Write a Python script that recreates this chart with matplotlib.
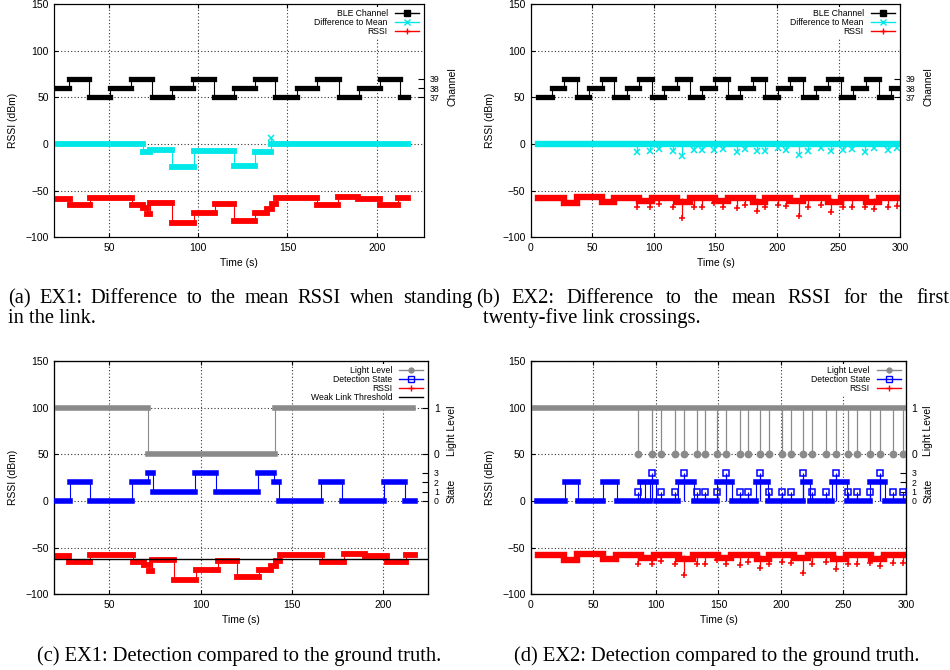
import numpy as np
import matplotlib.pyplot as plt
from matplotlib.lines import Line2D

plt.rcParams['font.family'] = ['Liberation Sans', 'DejaVu Sans']

W, H = 950, 670

# === EX1: standing in the link (panels a, c) ===
ex1_ch_t = [19.7, 27.4, 39.0, 50.7, 62.3, 74.1, 85.5, 97.3, 108.7, 120.2, 131.8,
            143.2, 155.2, 166.8, 178.7, 189.9, 201.7, 213.1, 217.4]
ex1_ch = [38, 39, 37, 38, 39, 37, 38, 39, 37, 38, 39, 37, 38, 39, 37, 38, 39, 37]

ex1_rssi_t = [20.0, 28.1, 39.3, 62.7, 69.2, 71.5, 73.2, 85.5, 97.6, 109.4, 120.0,
              131.8, 138.6, 141.2, 143.5, 166.4, 178.5, 189.7, 201.9, 212.2, 217.4]
ex1_rssi = [-59, -65, -58, -65, -69, -75, -63, -85, -74, -64, -82,
            -74, -70, -64, -58, -65, -57, -59, -65, -58]

ex1_diff_t = [20.0, 69.2, 73.2, 85.5, 97.6, 120.0, 131.8, 140.5, 217.4]
ex1_diff = [0, -8, -6, -25, -7, -23, -8, 0]
ex1_diff_spike_t = [141.0]
ex1_diff_spike = [7]

ex1_light_t = [20.0, 71.4, 140.7, 216.4]
ex1_light = [1, 0, 1]

ex1_state_t = [20.0, 28.5, 39.4, 62.6, 71.0, 74.0, 96.7, 108.4, 131.2, 140.0,
               143.1, 166.1, 177.2, 200.5, 211.9, 217.4]
ex1_state = [0, 2, 0, 2, 3, 1, 3, 1, 3, 2, 0, 2, 0, 2, 0]
ex1_threshold = -62.5

# === EX2: 25 link crossings (panels b, d) ===
ex2_ch_t = [6.0, 16.8, 26.8, 37.1, 47.4, 57.5, 67.8, 77.8, 88.1, 98.6, 108.4,
            118.7, 129.3, 139.3, 149.6, 159.9, 169.9, 180.5, 190.5, 200.5, 210.8,
            221.4, 231.4, 241.7, 251.8, 262.1, 272.4, 282.7, 292.7, 300.0]
ex2_ch = [37, 38, 39, 37, 38, 39, 37, 38, 39, 37, 38, 39, 37, 38, 39,
          37, 38, 39, 37, 38, 39, 37, 38, 39, 37, 38, 39, 37, 38]

ex2_rssi_t = [6.0, 26.8, 37.1, 57.5, 67.8, 88.1, 98.6, 118.7, 129.3, 149.6,
              159.9, 180.5, 190.5, 210.8, 221.4, 241.7, 251.8, 272.4, 282.7, 300.0]
ex2_rssi = [-57.5, -63, -57, -62.5, -58, -61, -58, -62, -58, -61,
            -58, -62, -58, -61, -58, -62, -58, -62, -58]

ex2_cross_t = [85.9, 96.5, 103.7, 115.2, 122.4, 132.5, 139.2, 149.1, 155.7, 167.2,
               173.9, 183.5, 190.1, 201.1, 207.7, 217.9, 225.1, 235.7, 244.0, 253.9,
               261.1, 271.2, 279.2, 289.9, 297.3]
ex2_rssi_spike = [-68, -68, -64, -68, -79, -68, -68, -63, -68, -69,
                  -65, -72, -68, -65, -66, -77, -68, -65, -73, -68,
                  -68, -67, -70, -67, -66]
ex2_diff_spike = [-8, -7, -5, -7, -13, -6, -6, -6, -5, -8,
                  -5, -7, -7, -4, -6, -12, -7, -4, -7, -6,
                  -5, -8, -4, -6, -4]
ex2_diff_t = [6.0, 300.0]
ex2_diff = [0]

ex2_light_t = [0.0, 300.0]
ex2_light = [1]
ex2_light_dip = [0] * len(ex2_cross_t)

ex2_state_t = [5.0, 27.0, 38.0, 58.0, 68.5, 87.5, 91.5, 95.0, 100.0, 118.0, 130.5,
               148.5, 160.5, 180.0, 190.0, 218.0, 223.5, 240.5, 253.0, 271.0, 283.5, 300.0]
ex2_state = [0, 2, 0, 2, 0, 2, 0, 2, 0, 2, 0, 2, 0, 2, 0, 2, 0, 2, 0, 2, 0]
ex2_state_spike = [1, 3, 1, 1, 3, 1, 1, 1, 3, 1, 1, 3, 1, 1, 1, 3, 1, 1, 3, 1, 1, 1, 3, 1, 1]

CYAN = '#00e8e8'
RED = '#ff0000'
BLUE = '#0000ff'
GRAY = '#8a8a8a'

fig = plt.figure(figsize=(W / 100, H / 100), dpi=100)


def steps(ax, t, v, color, lw):
    # thin connecting line + thick band where the dense markers overlap
    t = np.asarray(t, float)
    v = np.asarray(v, float)
    ax.plot(np.repeat(t, 2)[1:-1], np.repeat(v, 2), color=color, lw=0.8, zorder=2)
    ax.hlines(v, t[:-1], t[1:], colors=color, lw=lw, capstyle='projecting', zorder=3)


def spikes(ax, t, v, base, color, marker, ms, mfc=None):
    ax.vlines(t, base, v, colors=color, lw=0.9, zorder=2)
    ax.plot(t, v, ls='none', marker=marker, ms=ms, color=color,
            mfc=color if mfc is None else mfc, mew=1.1, zorder=4)


def panel(rect, xlim, xticks):
    ax = fig.add_axes(rect)
    ax.set_xlim(*xlim)
    ax.set_ylim(-100, 150)
    ax.set_xticks(xticks)
    ax.set_yticks([-100, -50, 0, 50, 100, 150])
    ax.grid(True, color='0.2', ls=(0, (1, 2)), lw=0.8)
    ax.tick_params(direction='in', top=True, length=3, labelsize=7.5, pad=4)
    ax.set_xlabel('Time (s)', fontsize=7.5, labelpad=4)
    ax.set_ylabel('RSSI (dBm)', fontsize=7.5, labelpad=5)
    return ax


def right_axis(ax, lo, hi, ticks):
    a = ax.twinx()
    a.set_ylim(lo, hi)
    a.set_yticks(ticks)
    a.tick_params(axis='y', direction='in', length=4, labelsize=6.3, pad=4)
    return a


def side_label(ax, x, y, s):
    ax.text(x, y, s, transform=ax.get_yaxis_transform(), rotation=90,
            ha='center', va='center', fontsize=7.5)


def key(ax, handles):
    leg = ax.legend(handles=handles, loc='upper right', fontsize=6.2, markerfirst=False,
                    handlelength=2.8, handletextpad=0.8, labelspacing=0.0,
                    borderpad=0.3, borderaxespad=0.3, frameon=True, fancybox=False)
    leg.get_frame().set_edgecolor('none')
    leg.get_frame().set_facecolor('white')
    leg.get_frame().set_alpha(1)


def ex_handles(light=False, threshold=False):
    if not light:
        return [Line2D([], [], color='k', lw=1, marker='s', ms=4, label='BLE Channel'),
                Line2D([], [], color=CYAN, lw=1, marker='x', ms=4, label='Difference to Mean'),
                Line2D([], [], color=RED, lw=1, marker='+', ms=5, label='RSSI')]
    hs = [Line2D([], [], color=GRAY, lw=1, marker='o', ms=3.5, label='Light Level'),
          Line2D([], [], color=BLUE, lw=1, marker='s', ms=4, mfc='none', label='Detection State'),
          Line2D([], [], color=RED, lw=1, marker='+', ms=5, label='RSSI')]
    if threshold:
        hs.append(Line2D([], [], color='k', lw=1, label='Weak Link Threshold'))
    return hs


# (a) EX1 difference to mean
ax = panel([0.0572, 0.6458, 0.3891, 0.3478], (19.35, 226.5), [50, 100, 150, 200])
ch = right_axis(ax, 22, 47, [37, 38, 39])
steps(ch, ex1_ch_t, ex1_ch, 'black', 3.8)
steps(ax, ex1_diff_t, ex1_diff, CYAN, 4.2)
spikes(ax, ex1_diff_spike_t, ex1_diff_spike, 0, CYAN, 'x', 4)
steps(ax, ex1_rssi_t, ex1_rssi, RED, 4.2)
side_label(ax, 1.076, 62, 'Channel')
key(ch, ex_handles())

# (b) EX2 difference to mean
ax = panel([0.5589, 0.6458, 0.3885, 0.3478], (0, 300), [0, 50, 100, 150, 200, 250, 300])
ch = right_axis(ax, 22, 47, [37, 38, 39])
steps(ch, ex2_ch_t, ex2_ch, 'black', 3.8)
steps(ax, ex2_diff_t, ex2_diff, CYAN, 4.6)
spikes(ax, ex2_cross_t, ex2_diff_spike, 0, CYAN, 'x', 4)
steps(ax, ex2_rssi_t, ex2_rssi, RED, 4.6)
spikes(ax, ex2_cross_t, ex2_rssi_spike, -58, RED, '+', 5)
side_label(ax, 1.077, 62, 'Channel')
key(ch, ex_handles())

# (c) EX1 detection vs ground truth
ax = panel([0.0572, 0.1130, 0.3937, 0.3482], (19.9, 224.6), [50, 100, 150, 200])
lt = right_axis(ax, -3, 2, [0, 1])
st = right_axis(ax, -10, 15, [0, 1, 2, 3])
lt.tick_params(axis='y', labelsize=7.5)
steps(lt, ex1_light_t, ex1_light, GRAY, 4.0)
steps(st, ex1_state_t, ex1_state, BLUE, 4.0)
steps(ax, ex1_rssi_t, ex1_rssi, RED, 4.2)
ax.axhline(ex1_threshold, color='k', lw=1, zorder=5)
side_label(ax, 1.063, 75, 'Light Level')
side_label(ax, 1.063, 11, 'State')
key(st, ex_handles(light=True, threshold=True))

# (d) EX2 detection vs ground truth
ax = panel([0.5589, 0.1130, 0.3947, 0.3482], (0, 300), [0, 50, 100, 150, 200, 250, 300])
lt = right_axis(ax, -3, 2, [0, 1])
st = right_axis(ax, -10, 15, [0, 1, 2, 3])
lt.tick_params(axis='y', labelsize=7.5)
steps(lt, ex2_light_t, ex2_light, GRAY, 4.0)
spikes(lt, ex2_cross_t, ex2_light_dip, 1, GRAY, 'o', 4.5)
steps(st, ex2_state_t, ex2_state, BLUE, 4.0)
spikes(st, ex2_cross_t, ex2_state_spike, 0, BLUE, 's', 4, mfc='none')
steps(ax, ex2_rssi_t, ex2_rssi, RED, 4.6)
spikes(ax, ex2_cross_t, ex2_rssi_spike, -58, RED, '+', 5)
side_label(ax, 1.06, 75, 'Light Level')
side_label(ax, 1.06, 11, 'State')
key(st, ex_handles(light=True))

# captions (LaTeX-style, justified first lines)
CAP = dict(fontsize=14.8, family='Liberation Serif', va='baseline')
renderer = fig.canvas.get_renderer()


def justified(text, x0, x1, y):
    words = text.split(' ')
    ts = [fig.text(0, 1 - y / H, w, **CAP) for w in words]
    widths = [t.get_window_extent(renderer).width for t in ts]
    gap = (x1 - x0 - sum(widths)) / (len(words) - 1)
    x = x0
    for t, w in zip(ts, widths):
        t.set_x(x / W)
        x += w + gap


justified('(a) EX1: Difference to the mean RSSI when standing', 8, 472, 303)
fig.text(8 / W, 1 - 323 / H, 'in the link.', **CAP)
justified('(b) EX2: Difference to the mean RSSI for the first', 476, 949, 303)
fig.text(483 / W, 1 - 323 / H, 'twenty-five link crossings.', **CAP)
fig.text(239 / W, 1 - 661 / H, '(c) EX1: Detection compared to the ground truth.', ha='center', **CAP)
fig.text(716.5 / W, 1 - 661 / H, '(d) EX2: Detection compared to the ground truth.', ha='center', **CAP)

fig.savefig('out.png', dpi=100)
